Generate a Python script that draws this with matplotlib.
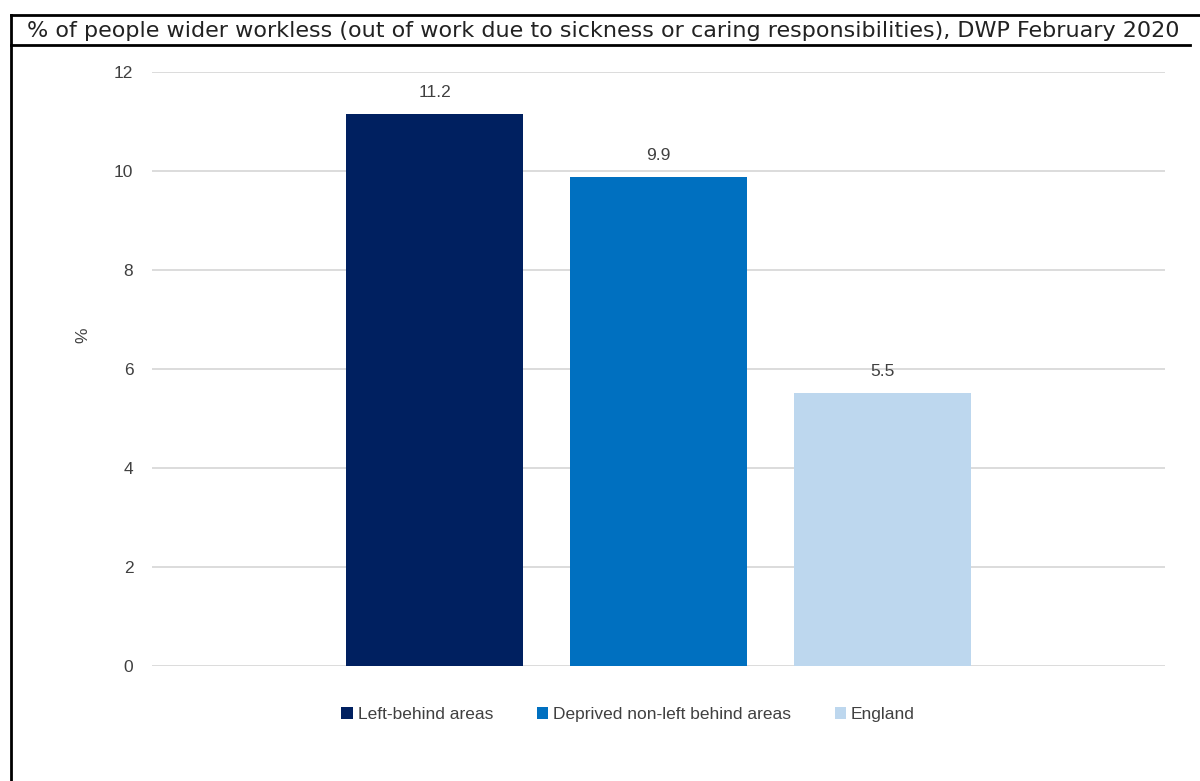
import matplotlib.pyplot as plt
from matplotlib.lines import Line2D

plt.rcParams['font.family'] = ['Liberation Sans', 'DejaVu Sans']

# Share of people wider workless, DWP February 2020
series = ['Left-behind areas', 'Deprived non-left behind areas', 'England']
values = [11.15, 9.88, 5.52]
labels = ['11.2', '9.9', '5.5']
colors = ['#002060', '#0070C0', '#BDD7EE']
yticks = [0, 2, 4, 6, 8, 10, 12]

fig = plt.figure(figsize=(12, 7.81), dpi=100)
ax = fig.add_axes([0.1267, 0.1473, 0.8441, 0.7605])

for i, (name, v, lab, c) in enumerate(zip(series, values, labels, colors)):
    ax.bar(i, v, width=0.786, color=c, label=name, zorder=3)
    ax.annotate(lab, (i, v), xytext=(0, 10), textcoords='offset points',
                ha='center', va='bottom', fontsize=12.5, color='#404040')

ax.set_xlim(-1.261, 3.261)
ax.set_ylim(0, 12)
ax.set_yticks(yticks)
ax.set_xticks([])
ax.tick_params(axis='y', length=0, pad=13.5, labelsize=12.5, labelcolor='#404040')
ax.grid(axis='y', color='#D9D9D9', linewidth=1.3, zorder=0)
for s in ax.spines.values():
    s.set_visible(False)
ax.set_ylabel('%', fontsize=12.5, color='#404040', labelpad=17)
ax.yaxis.label.set_y(0.557)

ax.legend(loc='upper center', bbox_to_anchor=(0.47, -0.043), ncol=3, frameon=False,
          fontsize=12.5, handlelength=0.65, handleheight=0.65, handletextpad=0.3,
          columnspacing=2.5, labelcolor='#404040')

# table-style frame with title row
fig.add_artist(Line2D([11 / 1200, 1], [1 - 15 / 781] * 2, color='black', lw=2))
fig.add_artist(Line2D([11 / 1200, 1190 / 1200], [1 - 45 / 781] * 2, color='black', lw=2))
fig.add_artist(Line2D([11 / 1200] * 2, [0, 1 - 15 / 781], color='black', lw=2))
fig.text(27 / 1200, 1 - 31 / 781,
         '% of people wider workless (out of work due to sickness or caring responsibilities), DWP February 2020',
         fontsize=16.05, family=['DejaVu Sans'], color='#222222', va='center', ha='left')

fig.savefig('out.png', dpi=100)
